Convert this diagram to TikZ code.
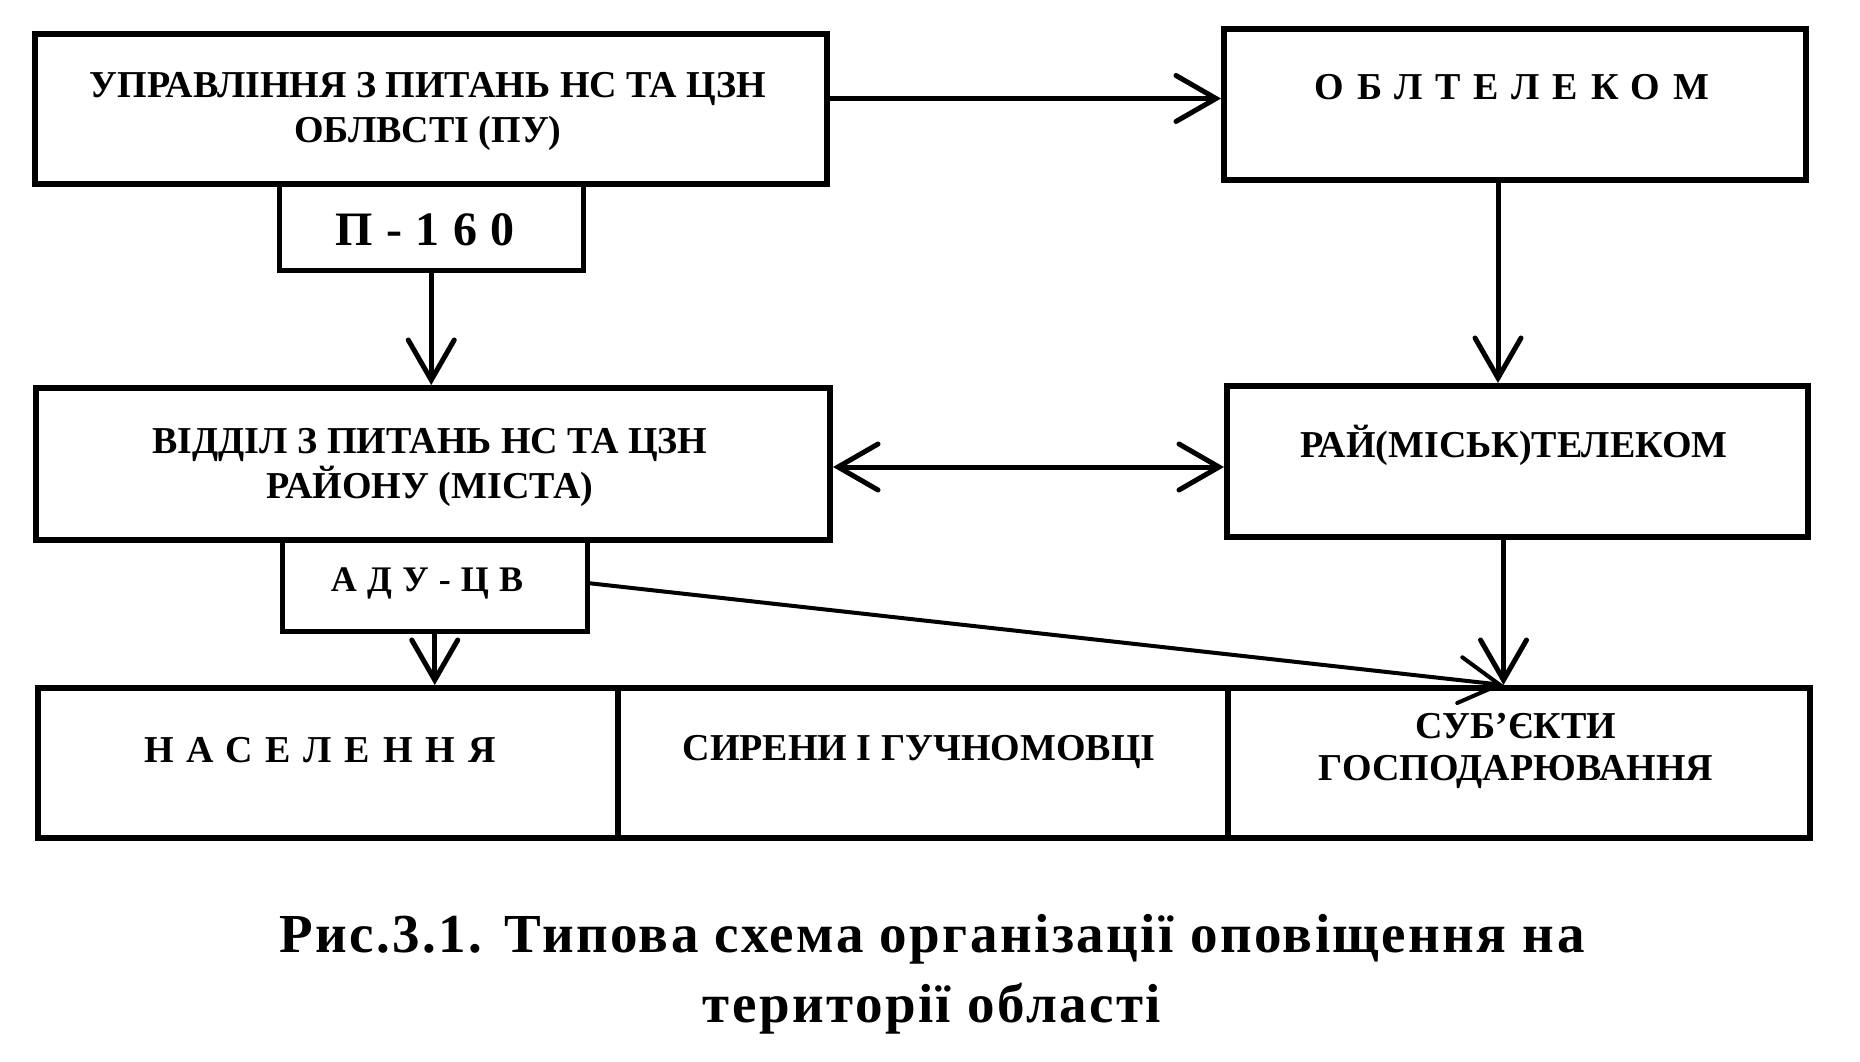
\documentclass[tikz,border=0pt]{standalone}
\usepackage{fontspec}
\setmainfont{Liberation Serif}
\usetikzlibrary{arrows.meta}
\tikzset{
  box/.style={draw, line width=6pt, rectangle, inner sep=0pt, anchor=north west},
  thinbox/.style={box, line width=4.5pt},
  lbl/.style={inner sep=0pt, anchor=base, font=\fontsize{38}{45}\selectfont\bfseries},
  spaced/.style={lbl, font=\fontsize{38}{45}\selectfont\bfseries\addfontfeature{LetterSpace=34}},
  arr/.style={line width=5pt, -{Straight Barb[length=40pt,width=46pt,line cap=round]}},
  dbl/.style={line width=5pt, {Straight Barb[length=40pt,width=46pt,line cap=round]}-{Straight Barb[length=40pt,width=46pt,line cap=round]}},
  thinarr/.style={line width=4pt, -{Straight Barb[length=40pt,width=46pt,line cap=round]}},
}
\begin{document}
\begin{tikzpicture}[x=1pt,y=-1pt]
\useasboundingbox[fill=white] (0,0) rectangle (1860,1062);
% boxes
\node[box, minimum width=792pt, minimum height=150pt] (pu) at (32,31) {};
\node[thinbox, minimum width=304pt, minimum height=87pt] (p160) at (277,181) {};
\node[box, minimum width=582pt, minimum height=151pt] (obl) at (1221,26) {};
\node[box, minimum width=794pt, minimum height=152pt] (viddil) at (33,385) {};
\node[thinbox, minimum width=305pt, minimum height=92pt] (adu) at (280,537) {};
\node[box, minimum width=581pt, minimum height=151pt] (rai) at (1224,383) {};
\node[box, minimum width=580pt, minimum height=150pt] (nas) at (35,685) {};
\node[box, minimum width=610pt, minimum height=150pt] (syr) at (615,685) {};
\node[box, minimum width=582pt, minimum height=150pt] (sub) at (1225,685) {};
% texts
\node[lbl] (tpu) at (428,98) {\begin{tabular}[t]{@{}c@{}}УПРАВЛІННЯ З ПИТАНЬ НС ТА ЦЗН\\ОБЛВСТІ (ПУ)\end{tabular}};
\node[lbl, font=\fontsize{48}{50}\selectfont\bfseries\addfontfeature{LetterSpace=28}] (tp160) at (425,245) {П-160};
\node[spaced] (tobl) at (1512,100) {ОБЛТЕЛЕКОМ};
\node[lbl] (tvid) at (430,453) {\begin{tabular}[t]{@{}c@{}}ВІДДІЛ З ПИТАНЬ НС ТА ЦЗН\\РАЙОНУ (МІСТА)\end{tabular}};
\node[lbl] (trai) at (1514,457) {РАЙ(МІСЬК)ТЕЛЕКОМ};
\node[lbl, font=\fontsize{36}{45}\selectfont\bfseries\addfontfeature{LetterSpace=28}] (tadu) at (427,591) {АДУ-ЦВ};
\node[spaced] (tnas) at (320,762) {НАСЕЛЕННЯ};
\node[lbl] (tsyr) at (919,760) {СИРЕНИ І ГУЧНОМОВЦІ};
\node[lbl, font=\fontsize{38}{42}\selectfont\bfseries] (tsub) at (1516,738) {\begin{tabular}[t]{@{}c@{}}СУБ’ЄКТИ\\ГОСПОДАРЮВАННЯ\end{tabular}};
\node[lbl, font=\fontsize{55}{70}\selectfont\bfseries\addfontfeature{LetterSpace=4.5}] (cap) at (932,952) {\begin{tabular}[t]{@{}c@{}}Рис.3.1. Типова схема організації оповіщення на\\території області\end{tabular}};
% connectors
\coordinate (subin) at ([xshift=-14pt]rai.south |- sub.north);
\draw[arr] ([yshift=6pt]pu.east |- obl.west) -- ([yshift=6pt]obl.west);
\draw[arr] (p160.south) -- (p160.south |- viddil.north);
\draw[arr] ([xshift=-17pt]obl.south) -- ([xshift=-17pt]obl.south |- rai.north);
\draw[dbl] ([yshift=-3pt]viddil.east) -- ([yshift=-3pt]viddil.east -| rai.west);
\draw[arr] ([xshift=-14pt]rai.south) -- (subin);
\draw[arr] (adu.south) -- (adu.south |- nas.north);
\draw[thinarr] ([yshift=2pt]adu.east) -- (subin);
\end{tikzpicture}
\end{document}
